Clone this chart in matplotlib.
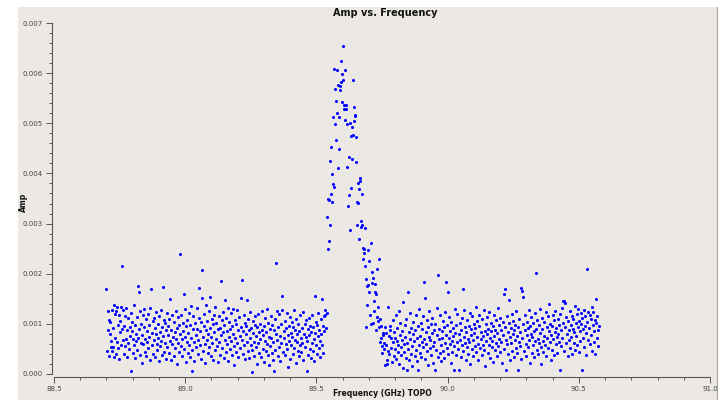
import matplotlib
matplotlib.use("Agg")
import matplotlib.pyplot as plt
import numpy as np
from matplotlib.patches import Rectangle
from matplotlib.lines import Line2D
from matplotlib.ticker import MultipleLocator, FormatStrFormatter

# channel grid of the spectral window (GHz)
f_start = 88.700
chan_width = 0.00195

# amplitudes in units of 1e-5, channel by channel
amp_below = [
    170, 46, 126, 88, 108, 35, 103, 80, 54, 66, 45, 127, 92, 53, 137, 33, 119, 71, 126, 40,
    133, 64, 51, 98, 118, 29, 106, 84, 134, 57, 216, 90, 68, 128, 39, 96, 55, 116, 70, 131,
    33, 88, 62, 111, 50, 93, 75, 121, 5, 86, 104, 42, 69, 138, 58, 31, 97, 80, 66, 113,
    48, 72, 175, 164, 89, 37, 125, 61, 100, 22, 77, 117, 59, 94, 130, 44, 70, 109, 36, 85,
    63, 120, 52, 98, 74, 28, 132, 169, 81, 57, 105, 40, 67, 112, 91, 34, 79, 124, 60, 47,
    99, 71, 25, 115, 83, 56, 128, 66, 38, 94, 173, 76, 108, 43, 62, 101, 30, 87, 121, 54,
    78, 96, 41, 110, 149, 65, 27, 88, 117, 59, 73, 35, 104, 84, 52, 126, 70, 19, 92, 113,
    61, 44, 98, 80, 239, 55, 118, 69, 36, 102, 86, 159, 50, 74, 129, 23, 95, 64, 107, 41,
    82, 122, 58, 97, 33, 71, 136, 48, 5, 89, 115, 63, 26, 101, 77, 54, 131, 90, 39, 68,
    112, 171, 57, 85, 30, 103, 151, 208, 73, 46, 120, 95, 60, 22, 87, 137, 67, 105, 42, 79,
    126, 53, 154, 91, 35, 74, 109, 62, 99, 28, 83, 118, 47, 133, 70, 101, 56, 24, 89, 116,
    64, 92, 38, 185, 78, 107, 51, 123, 84, 31, 97, 68, 147, 44, 112, 59, 86, 132, 26, 73,
    104, 49, 90, 121, 66, 37, 95, 80, 129, 55, 18, 108, 72, 99, 43, 127, 61, 87, 34, 114,
    76, 52, 93, 152, 67, 187, 40, 85, 118, 58, 102, 29, 79, 96, 147, 63, 45, 110, 88, 32,
    71, 124, 57, 91, 47, 3, 106, 82, 64, 36, 98, 115, 53, 75, 20, 93, 61, 119, 42, 84,
    69, 100, 33, 87, 126, 50, 78, 95, 24, 65, 112, 46, 83, 130, 59, 38, 101, 74, 17, 90,
    56, 116, 72, 41, 97, 63, 28, 5, 88, 109, 47, 80, 221, 67, 125, 35, 93, 54, 119, 76,
    26, 99, 62, 128, 156, 44, 85, 71, 105, 38, 60, 91, 122, 49, 77, 14, 96, 66, 113, 30,
    82, 57, 104, 73, 40, 94, 127, 52, 68, 88, 21, 110, 63, 79, 46, 100, 35, 86, 58, 117,
    71, 43, 92, 61, 124, 27, 80, 99, 54, 74, 107, 5, 65, 89, 37, 112, 78, 50, 96, 31,
    84, 62, 118, 45, 93, 70, 26, 156, 81, 103, 57, 39, 97, 75, 121, 52, 88, 34, 66, 110,
    79, 150, 58, 95, 42, 115, 86, 118, 128, 92, 121,
]

amp_line = [
    314, 250, 350, 265, 347, 297, 425, 452, 358, 399,
    344, 379, 512, 372, 608, 498, 568, 544, 467, 606,
    521, 577, 411, 512, 449, 574, 567, 582, 624, 598,
    542, 654, 587, 536, 528, 606, 507, 536, 528, 498,
    412, 336, 432, 356, 501, 288, 474, 370, 493, 429,
    587, 477, 532, 505, 517, 515, 473, 423, 344, 298,
    380, 342, 368, 270, 391, 384, 305, 294, 358, 297,
    251, 229, 241, 249, 292, 215, 189, 93, 176, 138,
    247, 178, 226, 164, 118, 261, 100, 203, 182, 102,
    192, 146, 125, 179, 164, 159, 87, 113, 209, 133,
    105, 230, 93, 64, 110, 72, 95, 41, 56, 81,
    77, 49,
]

amp_above = [
    62, 94, 17, 58, 81, 28, 19, 46, 133, 75, 39, 88, 96, 71, 52, 24, 107, 63, 35, 84,
    49, 72, 118, 30, 66, 91, 43, 57, 125, 20, 78, 101, 54, 37, 86, 68, 12, 143, 59, 44,
    97, 73, 32, 110, 7, 61, 164, 50, 83, 27, 69, 121, 40, 92, 56, 15, 79, 104, 65, 36,
    88, 47, 117, 71, 25, 7, 95, 58, 130, 42, 76, 102, 33, 64, 89, 53, 115, 183, 70, 152,
    29, 84, 60, 108, 45, 93, 18, 74, 126, 51, 67, 99, 38, 81, 111, 56, 22, 87, 63, 7,
    100, 48, 77, 132, 34, 197, 69, 90, 41, 118, 57, 26, 85, 72, 106, 46, 94, 31, 62, 123,
    78, 183, 52, 98, 163, 39, 71, 114, 59, 86, 21, 104, 66, 43, 92, 75, 7, 55, 130, 82,
    37, 97, 64, 119, 49, 80, 8, 101, 68, 33, 87, 58, 112, 170, 45, 74, 127, 61, 93, 28,
    83, 54, 108, 70, 40, 96, 63, 122, 19, 77, 89, 50, 115, 67, 35, 100, 81, 56, 91, 134,
    44, 73, 105, 60, 27, 95, 118, 52, 84, 69, 38, 109, 76, 58, 128, 47, 86, 16, 99, 65,
    79, 113, 42, 90, 57, 124, 31, 71, 102, 85, 53, 66, 96, 24, 117, 75, 48, 88, 62, 107,
    36, 82, 131, 55, 97, 70, 43, 111, 64, 87, 22, 103, 78, 159, 50, 93, 170, 8, 68, 116,
    59, 84, 39, 101, 148, 73, 27, 92, 61, 120, 46, 79, 106, 34, 88, 67, 98, 52, 125, 41,
    75, 7, 94, 63, 110, 56, 83, 30, 172, 166, 71, 99, 154, 45, 87, 118, 60, 36, 104, 77,
    92, 53, 127, 68, 21, 96, 80, 113, 42, 74, 101, 58, 85, 33, 121, 65, 201, 90, 48, 108,
    70, 39, 97, 61, 82, 130, 54, 19, 89, 112, 66, 44, 103, 76, 57, 124, 35, 93, 72, 115,
    51, 86, 139, 63, 100, 28, 78, 95, 47, 118, 69, 107, 38, 84, 125, 59, 91, 73, 42, 110,
    80, 64, 98, 8, 120, 55, 87, 132, 71, 101, 146, 45, 146, 142, 93, 62, 114, 79, 36, 105,
    88, 67, 126, 52, 97, 74, 116, 40, 90, 109, 61, 83, 135, 48, 102, 76, 119, 58, 130, 94,
    43, 106, 85, 66, 121, 99, 8, 112, 72, 89, 127, 54, 96, 115, 37, 81, 209, 103, 68, 124,
    92, 118, 60, 110, 77, 133, 46, 98, 123, 85, 64, 107, 39, 149, 101, 71, 116, 88, 56, 95,
]

amp = np.array(amp_below + amp_line + amp_above) * 1e-5
freq = f_start + chan_width * np.arange(len(amp))

panel_color = "#ece9e5"

fig = plt.figure(figsize=(7.2, 4), dpi=100, facecolor="white")
fig.patches.append(Rectangle((18 / 720, 0), 699 / 720, 393 / 400,
                             transform=fig.transFigure, facecolor=panel_color,
                             edgecolor="none", zorder=-5))
fig.lines.append(Line2D([717 / 720, 717 / 720], [0, 393 / 400],
                        transform=fig.transFigure, color="#a8a6a2", lw=0.8, zorder=-4))

ax = fig.add_axes([54 / 720, 26 / 400, 656 / 720, 351 / 400])
ax.set_zorder(2)
ax.set_facecolor("none")
ax.plot(freq, amp, "o", color="#0000ff", ms=2.2, mec="none")

ax.set_xlim(88.5, 91.0)
ax.set_ylim(0, 0.007)
ax.xaxis.set_major_locator(MultipleLocator(0.5))
ax.xaxis.set_minor_locator(MultipleLocator(0.1))
ax.yaxis.set_major_locator(MultipleLocator(0.001))
ax.yaxis.set_minor_locator(MultipleLocator(0.0002))
ax.xaxis.set_major_formatter(FormatStrFormatter("%.1f"))
ax.yaxis.set_major_formatter(FormatStrFormatter("%.3f"))

for side in ("top", "right"):
    ax.spines[side].set_visible(False)
ax.spines["left"].set_position(("outward", 1.5))
ax.spines["bottom"].set_position(("outward", 2.4))
for side in ("left", "bottom"):
    ax.spines[side].set_color("#555555")
    ax.spines[side].set_linewidth(0.8)

ax.tick_params(which="both", direction="out", color="#555555", width=0.7,
               labelsize=5, labelcolor="#444444", pad=2)
ax.tick_params(which="major", length=4.5)
ax.tick_params(which="minor", length=2.5)

fig.text(385 / 720, 1 - 12.5 / 400, "Amp vs. Frequency", ha="center", va="center",
         fontsize=7, fontweight="bold", color="#111111")
fig.text(382 / 720, 1 - 394 / 400, "Frequency (GHz) TOPO", ha="center", va="center",
         fontsize=5.5, fontweight="bold", color="#111111")
fig.text(23 / 720, 1 - 202 / 400, "Amp", ha="center", va="center", rotation=90,
         fontsize=5.5, fontweight="bold", color="#111111")

fig.savefig("out.png", dpi=100, facecolor="white")
